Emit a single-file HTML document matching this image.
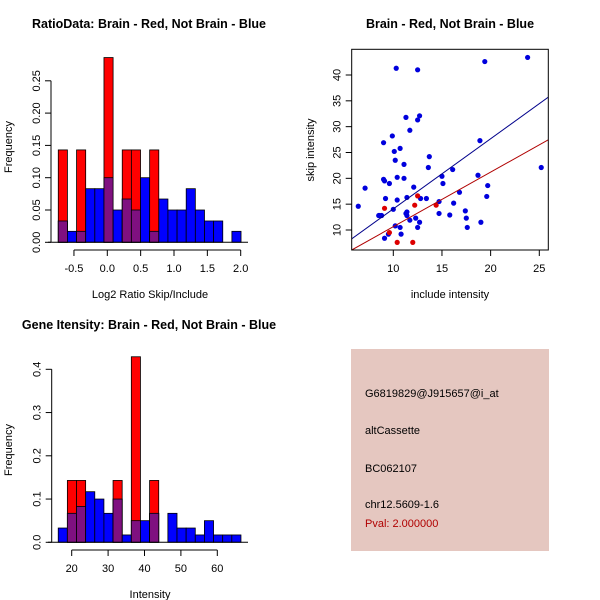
<!DOCTYPE html>
<html><head><meta charset="utf-8"><style>
body{margin:0;background:#fff}
svg{display:block;font-family:"Liberation Sans",sans-serif}
</style></head><body>
<svg id="c" width="600" height="600" viewBox="0 0 600 600">
<rect width="600" height="600" fill="#fff"/>
<g id="p1"></g>
<g id="p2"></g>
<g id="p3"></g>
<g>
<rect x="351" y="349" width="198" height="202" fill="#e5c7c0"/>
<text x="365" y="397" font-size="11" fill="#000">G6819829@J915657@i_at</text>
<text x="365" y="434" font-size="11" fill="#000">altCassette</text>
<text x="365" y="472" font-size="11" fill="#000">BC062107</text>
<text x="365" y="508" font-size="11" fill="#000">chr12.5609-1.6</text>
<text x="365" y="527" font-size="11" fill="#b00000">Pval: 2.000000</text>
</g>
</svg>
<script>
// ---- Plot 1 data ----
const h1Start=-0.735, h1Width=0.137;
const h1Blue=[0.033,0.017,0.017,0.083,0.083,0.1,0.05,0.067,0.05,0.1,0.017,0.067,0.05,0.05,0.083,0.05,0.033,0.033,0,0.017];
const h1Red=[0.143,0,0.143,0,0,0.286,0,0.143,0.143,0,0.143,0,0,0,0,0,0,0,0,0];
const h1XTicks=[-0.5,0.0,0.5,1.0,1.5,2.0];
const h1XLabels=["-0.5","0.0","0.5","1.0","1.5","2.0"];
const h1YTicks=[0,0.05,0.10,0.15,0.20,0.25];
const h1YLabels=["0.00","0.05","0.10","0.15","0.20","0.25"];
// ---- Plot 2 data ----
const blueX=[6.4,7.1,8.5,8.6,8.8,9.0,9.0,9.1,9.1,9.2,9.6,9.5,9.9,10,10.1,10.2,10.3,10.2,10.4,10.4,10.7,10.7,10.8,11.1,11.1,11.3,11.4,11.4,11.3,11.4,11.7,11.7,12.1,12.3,12.5,12.5,12.7,12.5,12.8,12.7,13.4,13.6,13.7,14.7,14.7,15.0,15.1,15.8,16.1,16.2,16.8,17.4,17.5,17.6,18.7,18.9,19.0,19.4,19.6,19.7,23.8,25.2];
const blueY=[14.6,18.1,12.8,12.8,12.8,26.9,19.8,19.5,8.4,16.1,19.0,9.2,28.2,14,25.2,23.5,41.3,10.8,15.8,20.2,25.8,10.5,9.2,22.7,20,31.8,13.5,16.3,13.2,12.8,29.3,11.9,18.3,12.3,41,31.3,32.1,10.5,16.1,11.5,16.1,22.1,24.2,13.2,15.5,20.4,19,12.9,21.7,15.2,17.3,13.7,12.3,10.5,20.6,27.3,11.5,42.6,16.5,18.6,43.4,22.1];
const redX=[9.1,9.6,10.4,12.0,12.2,12.5,14.4];
const redY=[14.2,9.5,7.6,7.6,14.8,16.6,14.8];
const blueFit=[0.52,1.357]; // intercept, slope
const redFit=[0.08,1.056];
const p2XTicks=[10,15,20,25];
const p2YTicks=[10,15,20,25,30,35,40];
// ---- Plot 3 data ----
const h3Start=16.3, h3Width=2.51;
const h3Blue=[0.033,0.067,0.083,0.117,0.1,0.067,0.1,0.017,0.05,0.05,0.067,0,0.067,0.033,0.033,0.017,0.05,0.017,0.017,0.017];
const h3Red=[0,0.143,0.143,0,0,0,0.143,0,0.429,0,0.143,0,0,0,0,0,0,0,0,0];
const h3XTicks=[20,30,40,50,60];
const h3XLabels=["20","30","40","50","60"];
const h3YTicks=[0,0.1,0.2,0.3,0.4];
const h3YLabels=["0.0","0.1","0.2","0.3","0.4"];

const NS="http://www.w3.org/2000/svg";
function mk(parent,tag,attrs){const e=document.createElementNS(NS,tag);for(const k in attrs)e.setAttribute(k,attrs[k]);parent.appendChild(e);return e;}

function hist(g,o){
  const sx=v=>o.x0+(v-o.xv0)*o.kx, sy=v=>o.y0-v*o.ky;
  const t=mk(g,'text',{x:o.tx,y:o.ty,'font-size':12.5,'font-weight':'bold','text-anchor':'middle'});
  t.textContent=o.title;
  
  
  o.blue.forEach((b,i)=>{
    const a=o.start+i*o.w, x1=sx(a), x2=sx(a+o.w), r=o.red[i];
    if(b>0){const e=mk(g,'rect',{x:x1,y:sy(b),width:x2-x1,height:sy(0)-sy(b),fill:'#0000ff',stroke:'#000','stroke-width':0.8});
      
      }
    if(r>0){const e=mk(g,'rect',{x:x1,y:sy(r),width:x2-x1,height:sy(0)-sy(r),fill:'#ff0000',stroke:'#000','stroke-width':0.8});
      
      
      const m=Math.min(b,r);
      if(m>0){const p=mk(g,'rect',{x:x1,y:sy(m),width:x2-x1,height:sy(0)-sy(m),fill:'#7f1080',stroke:'#000','stroke-width':0.8});
        
        }}
  });
  mk(g,'line',{x1:48,x2:248,y1:sy(0),y2:sy(0),stroke:'#000'});
  const ay=o.axisY;
  mk(g,'line',{x1:sx(o.xt[0]),x2:sx(o.xt[o.xt.length-1]),y1:ay,y2:ay,stroke:'#000'});
  o.xt.forEach((v,i)=>{mk(g,'line',{x1:sx(v),x2:sx(v),y1:ay,y2:ay+6,stroke:'#000'});
    const l=mk(g,'text',{x:sx(v),y:ay+22,'font-size':11,'text-anchor':'middle'});l.textContent=o.xl[i];
    
    });
  const ax=o.axisX;
  mk(g,'line',{x1:ax,x2:ax,y1:sy(o.yt[0]),y2:sy(o.yt[o.yt.length-1]),stroke:'#000'});
  o.yt.forEach((v,i)=>{mk(g,'line',{x1:ax,x2:ax-6,y1:sy(v),y2:sy(v),stroke:'#000'});
    const l=mk(g,'text',{x:ax-11,y:sy(v),'font-size':11,'text-anchor':'middle',transform:`rotate(-90 ${ax-11} ${sy(v)})`});l.textContent=o.yl[i];
    
    });
  const xt=mk(g,'text',{x:o.xlx,y:o.xly,'font-size':11,'text-anchor':'middle'});xt.textContent=o.xlab;
  
  
  const yt=mk(g,'text',{x:12,y:o.yly,'font-size':11,'text-anchor':'middle',transform:`rotate(-90 12 ${o.yly})`});yt.textContent='Frequency';
  
  
}
hist(document.getElementById('p1'),{title:'RatioData: Brain - Red, Not Brain - Blue',tx:149,ty:28,
  x0:107.3,xv0:0,kx:66.7,y0:242.3,ky:646,start:h1Start,w:h1Width,blue:h1Blue,red:h1Red,
  xt:h1XTicks,xl:h1XLabels,yt:h1YTicks,yl:h1YLabels,axisY:250,axisX:51,xlab:'Log2 Ratio Skip/Include',xlx:150,xly:298,yly:147});
hist(document.getElementById('p3'),{title:'Gene Itensity: Brain - Red, Not Brain - Blue',tx:149,ty:329,
  x0:71.7,xv0:20,kx:3.64,y0:542.3,ky:432.5,start:h3Start,w:h3Width,blue:h3Blue,red:h3Red,
  xt:h3XTicks,xl:h3XLabels,yt:h3YTicks,yl:h3YLabels,axisY:550,axisX:51.7,xlab:'Intensity',xlx:150,xly:598,yly:450});

// scatter
(function(){
  const g=document.getElementById('p2');
  const L=351.7,R=548.3,T=49.3,B=250;
  const sx=v=>393.3+(v-10)*9.733, sy=v=>230-(v-10)*5.167;
  const xmin=(L-393.3)/9.733+10, xmax=(R-393.3)/9.733+10;
  const t=mk(g,'text',{x:450,y:28,'font-size':12.5,'font-weight':'bold','text-anchor':'middle'});t.textContent='Brain - Red, Not Brain - Blue';
  
  
  mk(g,'defs',{}).innerHTML='<clipPath id="cp"><rect x="'+L+'" y="'+T+'" width="'+(R-L)+'" height="'+(B-T)+'"/></clipPath>';
  const cg=mk(g,'g',{'clip-path':'url(#cp)'});
  blueX.forEach((x,i)=>{const c=mk(cg,'circle',{cx:sx(x),cy:sy(blueY[i]),r:2.6,fill:'#0000dd'});
    
    });
  redX.forEach((x,i)=>{const c=mk(cg,'circle',{cx:sx(x),cy:sy(redY[i]),r:2.6,fill:'#dd0000'});
    
    });
  [[blueFit,'#00008b','fit-line-blue'],[redFit,'#b00000','fit-line-red']].forEach(([f,col,n])=>{
    const l=mk(cg,'line',{x1:sx(xmin),y1:sy(f[0]+f[1]*xmin),x2:sx(xmax),y2:sy(f[0]+f[1]*xmax),stroke:col,'stroke-width':1});
    
    });
  mk(g,'rect',{x:L,y:T,width:R-L,height:B-T,fill:'none',stroke:'#000'});
  p2XTicks.forEach(v=>{mk(g,'line',{x1:sx(v),x2:sx(v),y1:B,y2:B+6,stroke:'#000'});
    const l=mk(g,'text',{x:sx(v),y:B+22,'font-size':11,'text-anchor':'middle'});l.textContent=v;
    
    });
  p2YTicks.forEach(v=>{mk(g,'line',{x1:L,x2:L-6,y1:sy(v),y2:sy(v),stroke:'#000'});
    const l=mk(g,'text',{x:L-11,y:sy(v),'font-size':11,'text-anchor':'middle',transform:`rotate(-90 ${L-11} ${sy(v)})`});l.textContent=v;
    
    });
  const xt=mk(g,'text',{x:450,y:298,'font-size':11,'text-anchor':'middle'});xt.textContent='include intensity';
  
  
  const yt=mk(g,'text',{x:314,y:150,'font-size':11,'text-anchor':'middle',transform:'rotate(-90 314 150)'});yt.textContent='skip intensity';
  
  
})();
</script>
</body></html>
